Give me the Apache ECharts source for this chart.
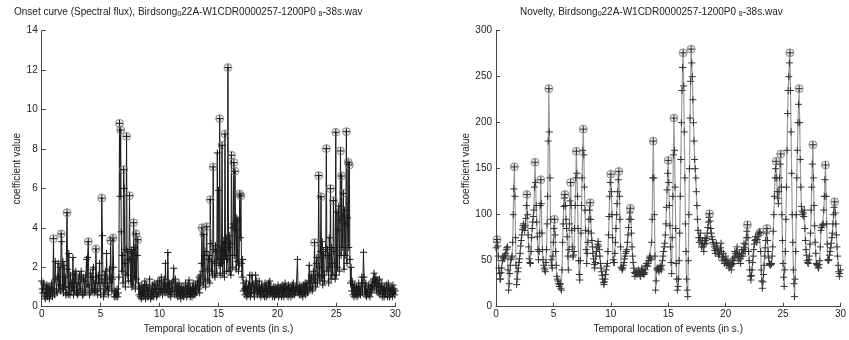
<!DOCTYPE html>
<html><head><meta charset="utf-8">
<script src="https://cdn.jsdelivr.net/npm/echarts@6/dist/echarts.min.js"></script>
<style>html,body{margin:0;padding:0;background:#fff}#c{width:849px;height:340px}</style>
</head><body><div id="c"></div>
<script>
// ---- Onset curve (left) : values on a 0.05 s grid ----
const onsetStep = 0.05;
const onsetValues = [
  1.3, 0.9, 0.7, 1.2, 1.1, 0.5, 0.4, 0.9, 0.6, 1.1,
  0.5, 1.0, 0.7, 0.4, 1.0, 0.6, 0.8, 1.2, 0.5, 0.9,
  3.45, 0.7, 0.6, 2.3, 1.4, 0.8, 0.7, 1.5, 2.2, 0.9,
  1.1, 2.0, 0.8, 3.69, 3.3, 0.9, 2.3, 0.7, 2.1, 1.0,
  1.5, 0.6, 0.7, 4.77, 1.9, 0.6, 2.7, 1.0, 0.6, 1.6,
  1.2, 0.8, 1.0, 2.5, 0.6, 1.7, 0.8, 1.4, 1.8, 0.7,
  1.2, 0.6, 0.7, 1.5, 1.6, 0.8, 0.9, 1.8, 1.4, 0.6,
  0.6, 1.5, 1.3, 0.7, 0.8, 1.6, 2.4, 1.0, 2.5, 3.30,
  1.1, 0.6, 0.7, 1.7, 1.5, 0.8, 0.9, 1.9, 2.0, 0.7,
  1.2, 0.8, 2.93, 1.5, 0.8, 0.6, 1.6, 1.2, 2.2, 0.9,
  0.6, 1.4, 5.51, 3.6, 1.2, 0.5, 0.7, 1.6, 1.8, 0.8,
  2.7, 1.4, 1.0, 0.6, 0.9, 1.9, 1.2, 3.35, 1.5, 0.8,
  1.4, 3.49, 2.0, 0.5, 0.7, 0.8, 0.5, 0.6, 0.9, 0.5,
  0.7, 1.5, 9.30, 5.6, 8.96, 3.8, 1.8, 2.6, 1.2, 6.95,
  6.0, 2.2, 1.0, 2.9, 8.64, 1.6, 2.8, 1.3, 2.4, 5.63,
  2.4, 1.3, 2.9, 1.0, 2.7, 1.1, 4.26, 1.5, 3.0, 0.9,
  3.70, 1.4, 2.6, 3.40, 1.2, 0.6, 1.0, 0.5, 0.9, 0.4,
  1.1, 0.7, 0.5, 1.0, 0.6, 1.3, 0.4, 0.8, 1.1, 0.5,
  1.0, 0.5, 0.8, 1.4, 0.6, 0.4, 0.9, 0.5, 1.1, 0.6,
  0.5, 1.2, 0.7, 0.9, 1.1, 0.5, 0.6, 1.3, 0.7, 0.9,
  1.3, 0.7, 0.9, 1.5, 0.8, 0.6, 1.2, 0.9, 1.4, 0.7,
  2.2, 0.9, 1.0, 0.7, 2.75, 1.1, 0.6, 1.2, 0.8, 0.5,
  1.2, 0.7, 0.9, 1.3, 1.95, 0.8, 0.6, 1.4, 1.0, 0.6,
  1.1, 0.5, 0.8, 1.2, 0.6, 0.9, 0.4, 1.0, 0.7, 0.6,
  1.0, 0.5, 0.8, 0.6, 1.2, 0.9, 0.5, 1.1, 0.6, 0.8,
  1.35, 0.7, 0.5, 1.0, 0.8, 0.5, 0.9, 1.2, 0.6, 0.9,
  0.6, 1.1, 0.8, 0.7, 1.3, 1.0, 0.9, 1.5, 0.7, 1.6,
  1.2, 2.2, 4.0, 1.8, 1.1, 3.67, 2.6, 1.4, 1.0, 2.8,
  4.06, 1.9, 1.3, 2.4, 2.6, 1.2, 5.43, 3.2, 1.8, 2.3,
  1.6, 7.09, 2.9, 2.2, 1.5, 3.1, 2.8, 1.7, 7.8, 2.4,
  5.9, 2.1, 9.54, 1.6, 3.0, 2.2, 8.19, 1.7, 2.4, 3.3,
  1.5, 8.76, 2.6, 3.5, 1.8, 2.4, 12.13, 3.0, 1.8, 3.6,
  3.2, 1.6, 7.68, 4.0, 2.0, 4.2, 7.31, 2.6, 6.87, 3.9,
  1.9, 4.5, 2.3, 4.4, 1.8, 2.1, 5.72, 3.5, 5.62, 2.2,
  1.5, 2.4, 0.8, 1.2, 0.9, 0.6, 1.0, 1.3, 0.5, 0.9,
  0.6, 1.1, 0.7, 1.6, 0.5, 1.0, 0.7, 1.6, 1.2, 0.7,
  1.1, 0.5, 0.9, 1.6, 0.8, 1.3, 0.6, 1.0, 0.8, 1.3,
  0.6, 0.9, 0.5, 1.1, 0.7, 1.0, 0.6, 0.9, 0.5, 1.2,
  0.9, 0.5, 1.1, 0.6, 0.8, 1.2, 0.6, 1.3, 0.7, 1.0,
  0.7, 0.9, 0.5, 1.0, 0.8, 0.5, 1.0, 0.6, 0.9, 0.6,
  0.8, 1.1, 0.5, 0.9, 0.6, 1.0, 0.8, 0.5, 1.1, 0.6,
  1.0, 0.5, 0.9, 1.2, 0.7, 0.6, 1.0, 0.9, 0.5, 1.1,
  0.6, 1.0, 0.8, 0.5, 0.9, 1.1, 0.6, 1.2, 0.8, 0.6,
  1.0, 0.7, 0.9, 1.0, 2.4, 0.7, 0.9, 0.6, 1.1, 0.8,
  0.6, 1.0, 0.9, 0.5, 1.1, 0.8, 0.7, 1.2, 0.6, 1.0,
  1.2, 0.7, 0.8, 1.3, 2.1, 0.9, 1.0, 1.6, 1.5, 0.8,
  0.9, 1.8, 1.2, 3.25, 1.4, 1.0, 2.2, 2.5, 1.2, 1.6,
  6.65, 2.0, 1.3, 2.8, 5.58, 1.5, 3.3, 1.1, 2.8, 1.6,
  1.3, 2.6, 3.0, 8.02, 1.8, 2.9, 2.6, 1.2, 3.5, 2.0,
  5.99, 1.4, 3.0, 2.2, 1.6, 5.38, 2.8, 2.2, 1.4, 8.85,
  1.6, 4.8, 2.0, 3.9, 5.1, 1.8, 4.4, 7.9, 2.6, 6.63,
  3.0, 4.6, 5.75, 1.9, 4.9, 2.6, 4.2, 8.88, 2.2, 4.5,
  7.33, 3.0, 7.19, 2.4, 1.2, 2.0, 0.8, 1.3, 0.6, 1.0,
  0.5, 1.1, 0.8, 0.6, 1.0, 0.5, 0.9, 0.6, 1.2, 0.7,
  0.9, 0.6, 1.0, 1.5, 0.7, 1.2, 2.76, 1.5, 0.8, 0.6,
  1.2, 0.5, 0.9, 0.7, 0.6, 1.1, 0.8, 0.5, 1.0, 1.1,
  0.7, 1.3, 0.9, 1.4, 1.7, 1.0, 1.2, 1.5, 0.8, 1.3,
  1.35, 0.7, 1.1, 1.4, 0.6, 1.0, 0.8, 1.2, 0.5, 0.9,
  0.9, 0.5, 1.0, 0.7, 0.6, 1.1, 0.8, 0.5, 1.2, 0.9,
  0.5, 0.9, 0.6, 1.0, 0.8, 0.5, 1.1, 0.7, 0.9, 0.6,
  0.8
];
const onsetPeakTimes = [1.0, 1.65, 2.15, 3.95, 4.6, 5.1, 5.85, 6.05, 6.6, 6.7, 6.95, 7.2, 7.45, 7.8, 8.0, 8.15,
  13.6, 13.75, 14.0, 14.3, 14.55, 15.1, 15.3, 15.55, 15.8, 16.1, 16.3, 16.4, 16.8, 16.9,
  23.15, 23.5, 23.7, 24.15, 24.5, 24.75, 24.95, 25.35, 25.45, 25.6, 25.85, 26.0, 26.1];

// ---- Novelty curve (right) : values on a 0.05 s grid ----
const noveltyStep = 0.05;
const noveltyValues = [
  64, 70, 73, 66, 55, 42, 36, 30, 30, 37,
  42, 50, 54, 53, 52, 55, 56, 58, 62, 64,
  65, 40, 18, 25, 36, 45, 51, 53, 55, 70,
  100, 128, 152, 120, 75, 45, 24, 30, 38, 42,
  48, 52, 58, 66, 72, 78, 84, 88, 90, 86,
  83, 88, 96, 110, 122, 100, 78, 65, 52, 48,
  47, 60, 75, 85, 92, 98, 105, 130, 157, 135,
  110, 92, 76, 62, 51, 60, 80, 110, 138, 112,
  80, 62, 51, 45, 42, 40, 38, 48, 62, 90,
  120, 180, 237, 190, 140, 95, 51, 45, 42, 55,
  70, 85, 95, 78, 60, 45, 33, 30, 28, 25,
  22, 24, 25, 20, 18, 40, 70, 90, 109, 118,
  122, 110, 95, 85, 76, 55, 40, 62, 90, 115,
  135, 110, 83, 65, 54, 56, 60, 85, 110, 140,
  169, 145, 120, 85, 50, 35, 29, 50, 80, 110,
  140, 170, 193, 165, 130, 105, 83, 62, 47, 58,
  70, 82, 95, 105, 113, 95, 80, 72, 65, 58,
  52, 46, 42, 48, 55, 60, 64, 68, 71, 66,
  62, 55, 47, 42, 38, 34, 30, 26, 24, 27,
  30, 35, 40, 44, 47, 60, 78, 98, 120, 135,
  144, 125, 100, 75, 51, 48, 48, 58, 70, 85,
  100, 112, 125, 138, 147, 120, 95, 65, 43, 42,
  40, 42, 45, 48, 52, 55, 58, 60, 62, 70,
  78, 86, 95, 102, 107, 95, 80, 65, 55, 48,
  42, 37, 33, 36, 38, 36, 35, 38, 40, 38,
  36, 34, 33, 38, 42, 40, 38, 36, 35, 37,
  40, 44, 47, 45, 44, 47, 50, 53, 55, 53,
  51, 70, 95, 140, 180, 140, 100, 55, 18, 28,
  40, 42, 42, 40, 38, 41, 44, 42, 40, 45,
  50, 55, 60, 65, 69, 78, 90, 108, 127, 145,
  159, 135, 110, 88, 65, 48, 36, 75, 120, 165,
  205, 170, 130, 85, 47, 30, 18, 22, 30, 50,
  80, 120, 160, 200, 235, 260, 276, 240, 190, 140,
  90, 60, 30, 18, 11, 50, 100, 150, 205, 245,
  280, 265, 250, 225, 200, 180, 160, 150, 140, 125,
  110, 95, 83, 75, 70, 75, 80, 72, 65, 68,
  72, 65, 60, 68, 75, 72, 69, 74, 80, 86,
  92, 97, 101, 93, 85, 80, 76, 73, 70, 68,
  65, 61, 58, 63, 69, 66, 62, 58, 55, 57,
  60, 64, 69, 60, 50, 54, 58, 52, 47, 51,
  55, 50, 45, 48, 50, 46, 42, 45, 48, 44,
  40, 46, 52, 50, 47, 54, 60, 58, 55, 60,
  65, 57, 50, 54, 58, 52, 47, 55, 62, 58,
  55, 62, 69, 64, 60, 68, 75, 82, 89, 75,
  60, 50, 40, 33, 29, 34, 40, 48, 55, 62,
  68, 72, 76, 73, 70, 73, 76, 78, 80, 81,
  81, 60, 40, 28, 20, 27, 35, 45, 55, 64,
  72, 80, 85, 72, 60, 53, 47, 46, 45, 46,
  47, 55, 65, 82, 100, 120, 140, 150, 158, 140,
  125, 118, 112, 125, 140, 155, 166, 130, 100, 72,
  47, 32, 22, 40, 60, 95, 130, 170, 210, 235,
  250, 265, 276, 235, 190, 145, 100, 70, 40, 25,
  11, 30, 60, 100, 140, 170, 200, 220, 237, 200,
  160, 130, 109, 104, 100, 102, 98, 105, 85, 72,
  62, 56, 50, 48, 47, 51, 55, 68, 80, 105,
  130, 155, 176, 140, 110, 88, 70, 58, 47, 46,
  45, 43, 42, 46, 50, 65, 83, 86, 88, 89,
  90, 105, 120, 138, 154, 120, 90, 68, 51, 50,
  51, 56, 60, 64, 69, 75, 80, 90, 100, 108,
  114, 102, 90, 78, 65, 55, 45, 38, 33, 36,
  40
];
const noveltyPeakTimes = [0.1, 1.6, 2.7, 3.4, 3.9, 4.6, 5.1, 6.0, 6.5, 7.0, 7.6, 8.2, 10.0, 10.7, 11.7,
  13.7, 15.0, 15.5, 16.3, 17.0, 18.6, 21.9, 23.0, 23.6, 24.4, 24.8, 25.6, 26.4, 27.6, 28.7, 29.5];

// ---- axes / ticks / texts ----
const xTicks = [0, 5, 10, 15, 20, 25, 30];
const onsetYTicks = [0, 2, 4, 6, 8, 10, 12, 14];
const noveltyYTicks = [0, 50, 100, 150, 200, 250, 300];
const xName = 'Temporal location of events (in s.)';
const yName = 'coefficient value';
const leftTitle = 'Onset curve (Spectral flux), Birdsong{s|0}22A-W1CDR0000257-1200P0 {s|8}-38s.wav';
const rightTitle = 'Novelty, Birdsong{s|0}22A-W1CDR0000257-1200P0 {s|8}-38s.wav';

const FONT = '"Liberation Sans", Arial, sans-serif';
const TXT = '#222';
const toPairs = (vals, step) => vals.map((v, i) => [+(i * step).toFixed(2), v]);
const peaks = (times, vals, step) => times.map(t => [t, vals[Math.round(t / step)]]);
const CROSS = 'path://M0,5L10,5M5,0L5,10';

function xAxis(gi) {
  return {
    gridIndex: gi, type: 'value', min: xTicks[0], max: xTicks[xTicks.length - 1],
    interval: xTicks[1] - xTicks[0],
    name: xName, nameLocation: 'middle', nameGap: 18,
    nameTextStyle: { fontFamily: FONT, fontSize: 10, color: TXT },
    axisLine: { show: true, lineStyle: { color: '#444', width: 1 } },
    axisTick: { show: true, inside: true, length: 4, lineStyle: { color: '#444' } },
    axisLabel: { fontFamily: FONT, fontSize: 10, color: TXT, margin: 3 },
    splitLine: { show: false }
  };
}
function yAxis(gi, ticks) {
  return {
    gridIndex: gi, type: 'value', min: ticks[0], max: ticks[ticks.length - 1],
    interval: ticks[1] - ticks[0],
    name: yName, nameLocation: 'middle', nameGap: 18, nameRotate: 90,
    nameTextStyle: { fontFamily: FONT, fontSize: 10, color: TXT },
    axisLine: { show: true, lineStyle: { color: '#444', width: 1 } },
    axisTick: { show: true, inside: true, length: 4, lineStyle: { color: '#444' } },
    axisLabel: { fontFamily: FONT, fontSize: 10, color: TXT, margin: 4 },
    splitLine: { show: false }
  };
}
const titleStyle = {
  fontFamily: FONT, fontSize: 10, fontWeight: 'normal', color: TXT, lineHeight: 12,
  rich: { s: { fontFamily: FONT, fontSize: 7, color: TXT, lineHeight: 7, verticalAlign: 'bottom', padding: [9, 0, 0, 0] } }
};

const chart = echarts.init(document.getElementById('c'), null, { renderer: 'canvas' });
chart.setOption({
  animation: false,
  backgroundColor: '#fff',
  title: [
    { text: leftTitle, left: 14, top: 6, padding: 0, textStyle: titleStyle },
    { text: rightTitle, left: 520, top: 6, padding: 0, textStyle: titleStyle }
  ],
  grid: [
    { left: 41.7, right: 453.7, top: 30.7, bottom: 33.3 },
    { left: 496, right: 4.7, top: 30.7, bottom: 33.3 }
  ],
  xAxis: [xAxis(0), xAxis(1)],
  yAxis: [yAxis(0, onsetYTicks), yAxis(1, noveltyYTicks)],
  series: [
    {
      type: 'line', xAxisIndex: 0, yAxisIndex: 0, data: toPairs(onsetValues, onsetStep),
      symbol: CROSS, symbolSize: 7, showSymbol: true,
      lineStyle: { color: '#1a1a1a', width: 1 },
      itemStyle: { color: 'rgba(0,0,0,0)', borderColor: '#1a1a1a', borderWidth: 1 },
      z: 2
    },
    {
      type: 'scatter', xAxisIndex: 0, yAxisIndex: 0,
      data: peaks(onsetPeakTimes, onsetValues, onsetStep),
      symbol: 'circle', symbolSize: 8,
      itemStyle: { color: 'rgba(0,0,0,0.1)', borderColor: '#777', borderWidth: 1 },
      z: 3
    },
    {
      type: 'line', xAxisIndex: 1, yAxisIndex: 1, data: toPairs(noveltyValues, noveltyStep),
      symbol: CROSS, symbolSize: 7, showSymbol: true,
      lineStyle: { color: '#999', width: 1.2 },
      itemStyle: { color: 'rgba(0,0,0,0)', borderColor: '#333', borderWidth: 1 },
      z: 2
    },
    {
      type: 'scatter', xAxisIndex: 1, yAxisIndex: 1,
      data: peaks(noveltyPeakTimes, noveltyValues, noveltyStep),
      symbol: 'circle', symbolSize: 8,
      itemStyle: { color: 'rgba(0,0,0,0.1)', borderColor: '#777', borderWidth: 1 },
      z: 3
    }
  ]
});
</script>
</body></html>
